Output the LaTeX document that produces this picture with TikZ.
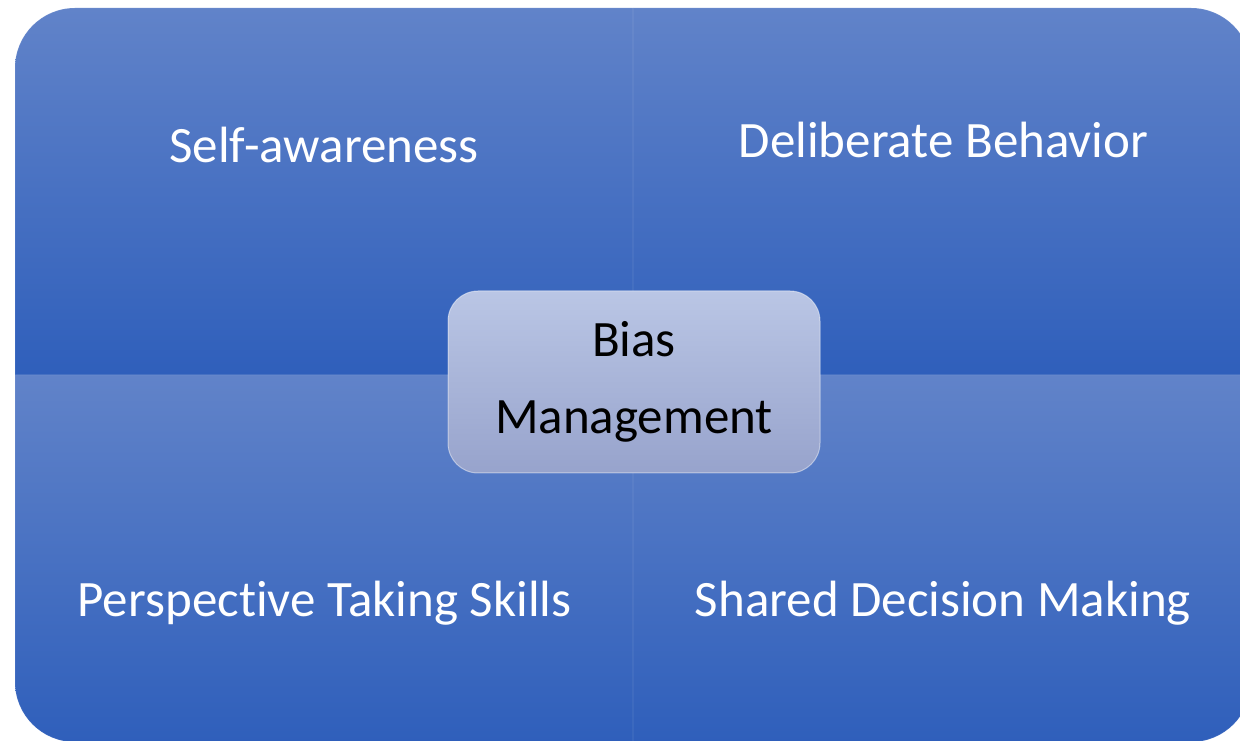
\documentclass[tikz,border=0pt]{standalone}
\usepackage{fontspec}
\setmainfont{Carlito}[Ligatures=NoCommon]
\definecolor{qtop}{RGB}{97,131,201}
\definecolor{qbot}{RGB}{47,95,187}
\definecolor{btop}{RGB}{186,198,229}
\definecolor{bbot}{RGB}{151,163,204}
\tikzset{
  quad/.style={top color=qtop, bottom color=qbot, draw=white, draw opacity=0.08, line width=1pt},
  lbl/.style={text=white, font=\fontsize{51}{60}\selectfont, anchor=base, inner sep=0pt},
  centerbox/.style={rounded corners=30pt, top color=btop, bottom color=bbot, draw=white, draw opacity=0.45, line width=1pt,
    minimum width=372pt, minimum height=182pt, align=center, font=\fontsize{51}{77}\selectfont, text=black, inner sep=0pt}
}
\begin{document}
\begin{tikzpicture}[x=1pt,y=1pt]
\useasboundingbox (0,0) rectangle (1240,741);
\clip (0,0) rectangle (1240,741);
% quadrants
\path[quad] (15,366) -- (15,673) arc[start angle=180,end angle=90,radius=60] -- (633,733) -- (633,366) -- cycle;
\path[quad] (633,366) -- (633,733) -- (1191,733) arc[start angle=90,end angle=0,radius=60] -- (1251,366) -- cycle;
\path[quad] (15,366) -- (633,366) -- (633,-1) -- (75,-1) arc[start angle=270,end angle=180,radius=60] -- cycle;
\path[quad] (633,366) -- (1251,366) -- (1251,59) arc[start angle=0,end angle=-90,radius=60] -- (633,-1) -- cycle;
% labels
\node[lbl] (self) at (324,578) {Self-awareness};
\node[lbl] (delib) at (943.5,583) {Deliberate Behavior};
\node[lbl] (persp) at (324.5,124) {Perspective Taking Skills};
\node[lbl] (shared) at (943,124) {Shared Decision Making};
% center
\node[centerbox] (bias) at (634,359) {Bias\\Management};
\end{tikzpicture}
\end{document}
